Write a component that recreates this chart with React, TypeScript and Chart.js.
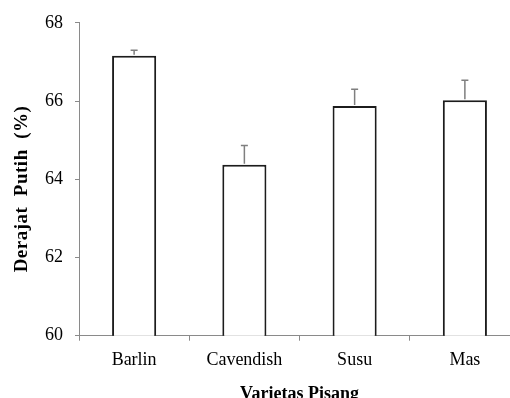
import React, { useEffect, useRef } from "react";
import { Chart, registerables } from "chart.js";

Chart.register(...registerables);

const categories = ["Barlin", "Cavendish", "Susu", "Mas"];
const meanValues = [67.16, 64.37, 65.87, 66.02];
const errorValues = [0.14, 0.49, 0.43, 0.51];
const yTicks = [60, 62, 64, 66, 68];
const xTitle = "Varietas Pisang";
const yTitle = "Derajat  Putih  (%)";

const FONT = "'Liberation Serif', 'Times New Roman', serif";

const errorBarPlugin = {
  id: "errorBars",
  afterDatasetsDraw(chart: any) {
    const { ctx } = chart;
    const meta = chart.getDatasetMeta(0);
    const y = chart.scales.y;
    ctx.save();
    ctx.strokeStyle = "#7f7f7f";
    ctx.lineWidth = 1.5;
    meta.data.forEach((bar: any, i: number) => {
      const top = y.getPixelForValue(meanValues[i]);
      const end = y.getPixelForValue(meanValues[i] + errorValues[i]);
      const x = bar.x;
      ctx.beginPath();
      ctx.moveTo(x, top - 1);
      ctx.lineTo(x, end);
      ctx.moveTo(x - 3.5, end);
      ctx.lineTo(x + 3.5, end);
      ctx.stroke();
    });
    ctx.restore();
  },
};

const yTitlePlugin = {
  id: "yTitle",
  afterDraw(chart: any) {
    const { ctx } = chart;
    ctx.save();
    ctx.translate(22, 189);
    ctx.rotate(-Math.PI / 2);
    ctx.font = `bold 19px ${FONT}`;
    try {
      (ctx as any).letterSpacing = "0.5px";
    } catch (e) {}
    ctx.fillStyle = "#000";
    ctx.textAlign = "center";
    ctx.textBaseline = "middle";
    ctx.fillText(yTitle, 0, 0);
    ctx.restore();
  },
};

export default function App() {
  const ref = useRef<HTMLCanvasElement | null>(null);
  useEffect(() => {
    if (!ref.current) return;
    const chart = new Chart(ref.current, {
      type: "bar",
      data: {
        labels: categories,
        datasets: [
          {
            data: meanValues,
            backgroundColor: "#ffffff",
            borderColor: "#1c1c1c",
            borderWidth: 2,
            barPercentage: 0.4,
            categoryPercentage: 1,
          },
        ],
      },
      options: {
        animation: false,
        responsive: false,
        maintainAspectRatio: false,
        layout: { padding: { left: 0, top: 22, right: 10, bottom: 0 } },
        plugins: {
          legend: { display: false },
          tooltip: { enabled: false },
        },
        scales: {
          x: {
            grid: {
              display: true,
              drawOnChartArea: false,
              drawTicks: true,
              tickLength: 5,
              color: "#8a8a8a",
              offset: true,
            },
            border: { display: true, color: "#8a8a8a", width: 1 },
            ticks: {
              color: "#000",
              font: { family: FONT, size: 18 },
              padding: 9,
            },
            title: {
              display: true,
              text: xTitle,
              color: "#000",
              font: { family: FONT, size: 18, weight: "bold" },
              padding: { top: 0, bottom: 5 },
            },
            afterFit(scale: any) {
              scale.height = 410 - 335.7;
            },
          },
          y: {
            min: 60,
            max: 68,
            afterBuildTicks(scale: any) {
              scale.ticks = yTicks.map((v) => ({ value: v }));
            },
            grid: {
              display: true,
              drawOnChartArea: false,
              drawTicks: true,
              tickLength: 4,
              color: "#8a8a8a",
            },
            border: { display: true, color: "#8a8a8a", width: 1 },
            ticks: {
              color: "#000",
              font: { family: FONT, size: 18 },
              padding: 12,
            },
            afterFit(scale: any) {
              scale.width = 79;
            },
          },
        },
      },
      plugins: [errorBarPlugin, yTitlePlugin],
    });
    return () => chart.destroy();
  }, []);
  return (
    <div
      style={{
        position: "fixed",
        left: 0,
        top: 0,
        width: 510,
        height: 398,
        overflow: "hidden",
        background: "#fff",
      }}
    >
      <canvas ref={ref} width={530} height={410} style={{ display: "block" }} />
    </div>
  );
}
